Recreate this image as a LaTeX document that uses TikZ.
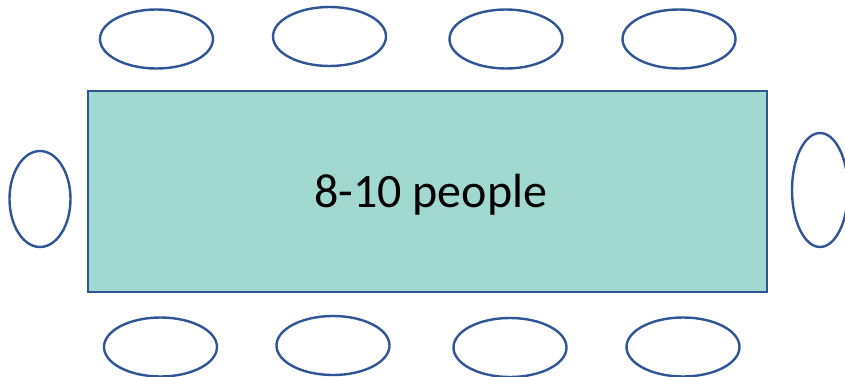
\documentclass[tikz,border=0pt]{standalone}
\usepackage{fontspec}
\setmainfont{Carlito}
\usetikzlibrary{shapes.geometric}
\definecolor{seatblue}{HTML}{2F5597}
\definecolor{tablegreen}{HTML}{A1D9D0}
\tikzset{
    seat/.style={ellipse, draw=seatblue, line width=2.4pt, inner sep=0pt, minimum width=113pt, minimum height=59pt}, % 椅子
    side seat/.style={seat, minimum width=61pt, minimum height=96pt}, % 两端的椅子
    table top/.style={rectangle, draw=seatblue, line width=2.2pt, fill=tablegreen, minimum width=679pt, minimum height=201pt}
}

\begin{document}
\begin{tikzpicture}[x=1pt, y=-1pt]
            \useasboundingbox (0,0) rectangle (845,377);
            \clip (0,0) rectangle (845,377);

            \node[table top] (table) at (427.7,191.3) {};
            \node[font=\fontsize{48}{56}\selectfont, inner sep=0pt] (title) at ([xshift=3pt, yshift=-3pt]table.center) {8-10 people};

            % 上下两排
            \foreach \i/\x/\y in {1/156.5/39, 2/329.5/36.5, 3/506/39, 4/679/39} {\node[seat] (top\i) at (\x,\y) {};}
            \foreach \i/\x/\y in {1/160.5/347, 2/333/345.5, 3/510/347.5, 4/683/347} {\node[seat] (bottom\i) at (\x,\y) {};}

            \node[side seat] (left) at (40,199) {};
            \node[side seat, minimum width=56pt, minimum height=114pt] (right) at (820,190) {};
        \end{tikzpicture}
\end{document}
